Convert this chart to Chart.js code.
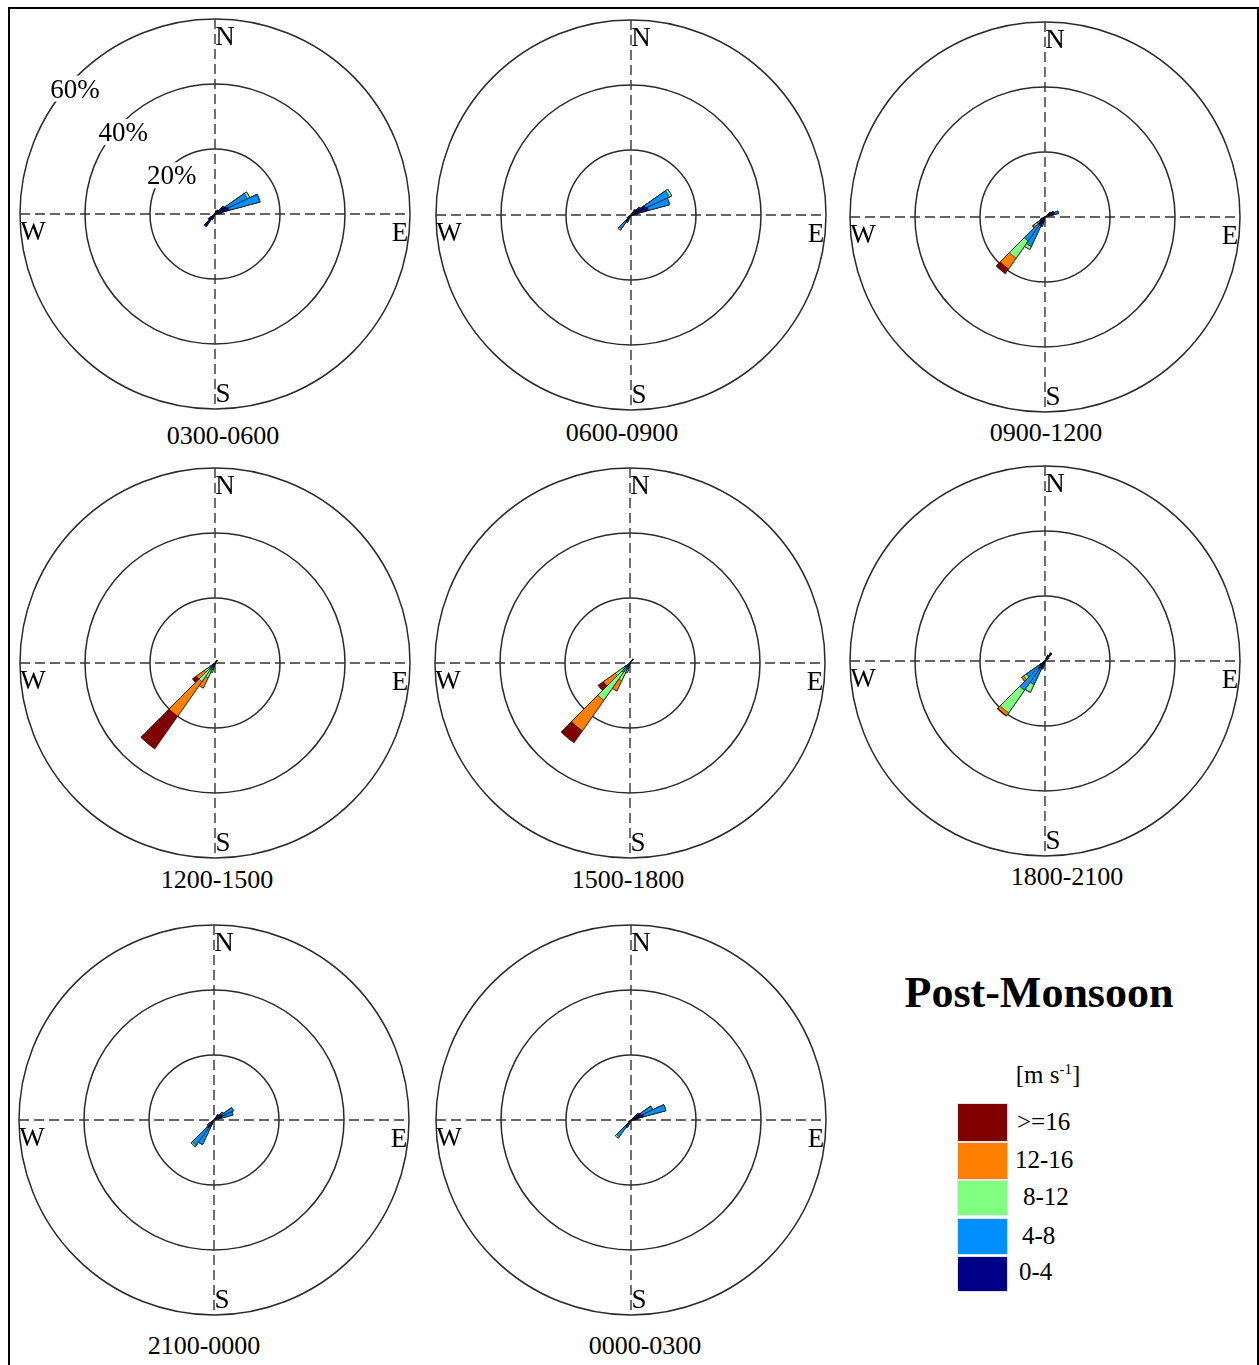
<!DOCTYPE html>
<html>
<head>
<meta charset="utf-8">
<title>Post-Monsoon wind roses</title>
<script src="https://cdn.jsdelivr.net/npm/chart.js@4.4.1/dist/chart.umd.min.js"></script>
<style>
  body { margin: 0; background: #fff; font-family: "Liberation Serif", "Times New Roman", serif; color: #000; }
  #fig { position: relative; width: 1259px; height: 1365px; overflow: hidden; }
  #frame { position: absolute; left: 8px; top: 7px; width: 1247px; height: 1400px; border: 2px solid #000; border-bottom: none; }
  .rose { position: absolute; }
  .cap { position: absolute; font-size: 26px; transform: translate(-50%, -50%); white-space: nowrap; }
  #title { position: absolute; left: 1039px; top: 992px; transform: translate(-50%, -50%); font-size: 44px; font-weight: bold; white-space: nowrap; }
  #unit { position: absolute; left: 1048px; top: 1075px; transform: translate(-50%, -50%); font-size: 25px; white-space: nowrap; }
  #unit sup { font-size: 15px; vertical-align: 9px; line-height: 0; }
  .lbox { position: absolute; left: 957px; width: 49px; border: 1px solid #e4e4f0; }
  .ltxt { position: absolute; font-size: 25px; transform: translateY(-50%); white-space: nowrap; }
</style>
</head>
<body>
<div id="fig">
  <div id="frame"></div>
  <div id="title">Post-Monsoon</div>
  <div id="unit">[m s<sup>-1</sup>]</div>
</div>
<script>
// ---- data -------------------------------------------------------------
// direction bins (degrees, clockwise from north), 10 degree wide
const directions = [0, 10, 20, 30, 40, 50, 60, 70, 80, 90, 100, 110, 120, 130, 140, 150, 160, 170,
  180, 190, 200, 210, 220, 230, 240, 250, 260, 270, 280, 290, 300, 310, 320, 330, 340, 350];
const speedBins = ['0-4', '4-8', '8-12', '12-16', '>=16'];
const binColors = ['#000088', '#0090ff', '#80ff80', '#ff8000', '#800000'];
const ringTicks = [20, 40, 60];
const periods = ['0300-0600', '0600-0900', '0900-1200', '1200-1500', '1500-1800', '1800-2100', '2100-0000', '0000-0300'];

// rows: [direction, 0-4, 4-8, 8-12, 12-16, >=16]  frequency in %
const rose0300 = [[20, 1, 0, 0, 0, 0], [30, 1, 0, 0, 0, 0], [40, 1.5, 0, 0, 0, 0], [50, 3, 0.5, 0, 0, 0],
  [60, 4, 7, 0.8, 0, 0], [70, 4.5, 9.8, 0, 0, 0], [80, 2, 0, 0, 0, 0],
  [210, 2, 0, 0, 0, 0], [220, 4.5, 0.3, 0, 0, 0], [230, 2.5, 0, 0, 0, 0]];
const rose0600 = [[40, 2, 0, 0, 0, 0], [50, 3, 0.5, 0, 0, 0], [60, 5, 8, 0.8, 0, 0], [70, 5.5, 6.8, 0, 0, 0],
  [80, 2, 0, 0, 0, 0], [210, 1.5, 1, 0, 0, 0], [220, 2.5, 2.7, 0.5, 0, 0], [230, 1.5, 0, 0, 0, 0]];
const rose0900 = [[50, 2, 0, 0, 0, 0], [60, 3, 0, 0, 0, 0], [70, 3, 1.3, 0, 0, 0],
  [200, 2, 1, 0, 0, 0], [210, 3, 7, 1, 0, 0], [220, 3, 6, 6.5, 4, 1.8], [230, 2, 1, 1, 0.5, 0.3], [240, 1.5, 0, 0, 0, 0]];
const rose1200 = [[40, 1, 0, 0, 0, 0], [200, 1, 1, 1, 0, 0], [210, 1, 1.5, 2.5, 3.5, 0],
  [220, 1, 1.5, 4.5, 13, 12.3], [230, 1, 1, 2, 3, 1.5]];
const rose1500 = [[40, 1.5, 0, 0, 0, 0], [200, 1, 1, 1, 0, 0], [210, 1, 1.5, 3.5, 3.5, 0],
  [220, 1.5, 2, 10.5, 11.5, 4.5], [230, 1, 1.5, 3, 4.5, 2]];
const rose1800 = [[30, 2, 0, 0, 0, 0], [40, 3, 0, 0, 0, 0], [50, 1.5, 0, 0, 0, 0], [200, 1.5, 1, 0, 0, 0],
  [210, 2.5, 5.5, 2.6, 0, 0], [220, 3, 8, 8.5, 1, 0.3], [230, 2, 5, 1, 0.8, 0]];
const rose2100 = [[40, 2, 0, 0, 0, 0], [50, 2.5, 1, 0, 0, 0], [60, 3, 3.6, 0, 0, 0], [70, 2.5, 3.5, 0, 0, 0],
  [210, 2.5, 5.8, 0, 0, 0], [220, 3, 6.5, 0.5, 0, 0], [230, 1.5, 1, 0, 0, 0]];
const rose0000 = [[50, 2.5, 0.5, 0, 0, 0], [60, 3.5, 3.9, 0, 0, 0], [70, 4, 7.1, 0, 0, 0], [80, 2, 0, 0, 0, 0],
  [210, 1.5, 1, 0, 0, 0], [220, 2.5, 3.8, 0.5, 0, 0], [230, 1, 0, 0, 0, 0]];
const roseRows = [rose0300, rose0600, rose0900, rose1200, rose1500, rose1800, rose2100, rose0000];

// ---- layout -----------------------------------------------------------
const centres = [[215, 214], [631, 215], [1045, 217], [215, 663], [630, 663], [1045, 661], [214, 1120], [631, 1120]];
const captionPos = [[223, 436], [622, 433], [1046, 433], [217, 880], [628, 880], [1067, 877], [204, 1346], [645, 1346]];
const HALF = 198;

const fig = document.getElementById('fig');

// stacked petals: each class drawn as the running total, smaller totals on top
function stackRows(rows) {
  const sets = speedBins.map(() => directions.map(() => 0));
  rows.forEach(r => {
    const idx = directions.indexOf(r[0]);
    let sum = 0;
    for (let k = 0; k < speedBins.length; k++) {
      sum += r[k + 1];
      sets[k][idx] = sum;
    }
  });
  return sets;
}

const rosePlugin = {
  id: 'rose',
  beforeDatasetsDraw(chart) {
    const s = chart.scales.r, c = chart.ctx;
    const x = s.xCenter, y = s.yCenter, R = s.drawingArea;
    c.save();
    c.strokeStyle = '#333';
    c.lineWidth = 1.4;
    c.setLineDash([10, 5]);
    c.beginPath();
    c.moveTo(x, y - R); c.lineTo(x, y + R);
    c.moveTo(x - R, y); c.lineTo(x + R, y);
    c.stroke();
    c.restore();
  },
  afterDraw(chart, args, opts) {
    const s = chart.scales.r, c = chart.ctx;
    const x = s.xCenter, y = s.yCenter;
    c.save();
    c.fillStyle = '#000';
    c.textAlign = 'center';
    c.textBaseline = 'middle';
    c.font = '27px "Liberation Serif"';
    c.fillText('N', x + 10, y - 176);
    c.fillText('E', x + 185, y + 20);
    c.fillText('S', x + 8, y + 181);
    c.fillText('W', x - 182, y + 19);
    if (opts.pct) {
      const ux = -0.745, uy = -0.667;
      ringTicks.forEach(v => {
        const d = s.getDistanceFromCenterForValue(v) - 7;
        const tx = x + ux * d, ty = y + uy * d;
        const label = v + '%';
        const w = c.measureText(label).width + 6;
        c.fillStyle = '#fff';
        c.fillRect(tx - w / 2, ty - 13, w, 26);
        c.fillStyle = '#000';
        c.fillText(label, tx, ty + 2);
      });
    }
    c.restore();
  }
};

roseRows.forEach((rows, i) => {
  const [cx, cy] = centres[i];
  const canvas = document.createElement('canvas');
  canvas.className = 'rose';
  canvas.width = HALF * 2;
  canvas.height = HALF * 2;
  canvas.style.left = (cx - HALF) + 'px';
  canvas.style.top = (cy - HALF) + 'px';
  fig.appendChild(canvas);

  const sets = stackRows(rows);
  new Chart(canvas, {
    type: 'polarArea',
    data: {
      labels: directions.map(String),
      datasets: sets.map((d, k) => ({
        label: speedBins[k],
        data: d,
        backgroundColor: binColors[k],
        borderColor: '#111',
        borderWidth: ctx => (ctx.raw > 0 ? 0.7 : 0),
      })),
    },
    options: {
      responsive: false,
      animation: false,
      events: [],
      layout: { padding: 3 },
      plugins: { legend: { display: false }, tooltip: { enabled: false }, rose: { pct: i === 0 } },
      scales: {
        r: {
          min: 0, max: 60, startAngle: -5,
          ticks: { display: false, stepSize: 20 },
          grid: { circular: true, color: '#2a2a2a', lineWidth: 1.5 },
          angleLines: { display: false },
          pointLabels: { display: false },
        },
      },
    },
    plugins: [rosePlugin],
  });

  const cap = document.createElement('div');
  cap.className = 'cap';
  cap.textContent = periods[i];
  cap.style.left = captionPos[i][0] + 'px';
  cap.style.top = captionPos[i][1] + 'px';
  fig.appendChild(cap);
});

// legend, top to bottom: >=16 ... 0-4
const boxTops = [1103, 1142, 1180, 1218, 1256];
const boxHeights = [37, 36, 34, 35, 34];
const textLeft = [1017, 1015, 1023, 1022, 1019];
const textMid = [1122, 1160, 1197, 1236, 1272];
for (let j = 0; j < speedBins.length; j++) {
  const k = speedBins.length - 1 - j;
  const box = document.createElement('div');
  box.className = 'lbox';
  box.style.top = boxTops[j] + 'px';
  box.style.height = boxHeights[j] + 'px';
  box.style.background = binColors[k];
  fig.appendChild(box);
  const t = document.createElement('div');
  t.className = 'ltxt';
  t.textContent = speedBins[k];
  t.style.left = textLeft[j] + 'px';
  t.style.top = textMid[j] + 'px';
  fig.appendChild(t);
}
</script>
</body>
</html>
